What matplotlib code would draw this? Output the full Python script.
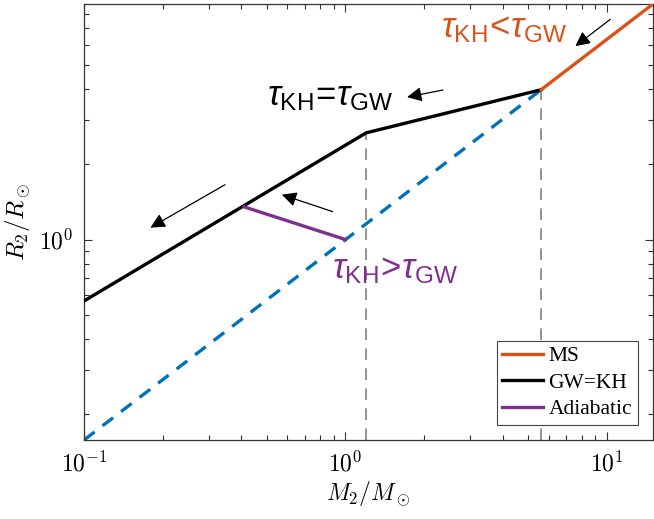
import numpy as np
import matplotlib
matplotlib.use("Agg")
import matplotlib.pyplot as plt
from matplotlib.ticker import FuncFormatter, LogLocator, NullFormatter

plt.rcParams['mathtext.fontset'] = 'cm'
plt.rcParams['mathtext.rm'] = 'Liberation Sans'
plt.rcParams['mathtext.it'] = 'Liberation Sans:italic'

# data
ms_m = [5.6, 15.0]          # main sequence (orange)
ms_r = [3.97, 8.74]
msx_m = [0.1, 5.6]          # MS relation extended (blue dashed)
msx_r = [0.158, 3.97]
gw_m = [0.1, 1.2, 5.6]      # GW=KH track (black)
gw_r = [0.568, 2.67, 3.97]
ad_m = [0.41, 1.0]          # adiabatic (purple)
ad_r = [1.35, 1.0]
vl_m = [1.2, 5.6]           # dashed guides
vl_r = [2.67, 3.97]

xlim = (0.1, 15.0)
ylim = (0.158, 8.74)

c_ms = '#D95319'
c_ext = '#0072BD'
c_ad = '#7E2F8E'
axc = '#333333'

fig = plt.figure(figsize=(6.54, 5.19), dpi=100)
ax = fig.add_axes([84/654, 79/519, 569/654, 436/519])
ax.set_xscale('log')
ax.set_yscale('log')

for x, r in zip(vl_m, vl_r):
    ax.plot([x, x], [ylim[0], r], color='#808080', lw=1.2, dashes=(7, 5), zorder=1)
ax.plot(msx_m, msx_r, color=c_ext, lw=2.4, dashes=(4, 3), zorder=2)
ax.plot(gw_m, gw_r, color='black', lw=2.4, zorder=3, label='GW=KH')
ax.plot(ad_m, ad_r, color=c_ad, lw=2.4, zorder=3, label='Adiabatic')
ax.plot(ms_m, ms_r, color=c_ms, lw=2.4, zorder=4, label='MS')

ax.set_xlim(*xlim)
ax.set_ylim(*ylim)

# arrows (tail, head) in data coords
arrows = [((0.346, 1.656), (0.1795, 1.116)),
          ((0.893, 1.293), (0.571, 1.511)),
          ((2.36, 3.96), (1.72, 3.71)),
          ((10.3, 7.59), (7.57, 5.93))]
for tail, head in arrows:
    ax.annotate('', xy=head, xytext=tail,
                arrowprops=dict(arrowstyle='-|>', lw=0.9, color='black',
                                mutation_scale=22, shrinkA=0, shrinkB=0))

tk = dict(fontsize=25, ha='left', va='center', math_fontfamily='custom')
ax.text(2.32, 7.0, r'$\tau_{\mathrm{KH}}\!<\!\tau_{\mathrm{GW}}$', color=c_ms, **tk)
ax.text(0.50, 3.75, r'$\tau_{\mathrm{KH}}\!=\!\tau_{\mathrm{GW}}$', color='black', **tk)
ax.text(0.892, 0.76, r'$\tau_{\mathrm{KH}}\!>\!\tau_{\mathrm{GW}}$', color=c_ad, **tk)

fmt = FuncFormatter(lambda v, p: r'$10^{%d}$' % int(round(np.log10(v))))
ax.xaxis.set_major_locator(LogLocator(base=10, numticks=10))
ax.yaxis.set_major_locator(LogLocator(base=10, numticks=10))
ax.xaxis.set_major_formatter(fmt)
ax.yaxis.set_major_formatter(fmt)
ax.xaxis.set_minor_formatter(NullFormatter())
ax.yaxis.set_minor_formatter(NullFormatter())
ax.tick_params(which='both', direction='in', top=True, right=True, color=axc,
               labelsize=17, pad=8)
ax.tick_params(which='major', length=6, width=0.8)
ax.tick_params(which='minor', length=3.5, width=0.8)
for s in ax.spines.values():
    s.set_color(axc)
    s.set_linewidth(0.9)

ax.set_xlabel(r'$M_2/M_\odot$', fontsize=17, labelpad=2)
ax.set_ylabel(r'$R_2/R_\odot$', fontsize=18, labelpad=4)

h, l = ax.get_legend_handles_labels()
order = [2, 0, 1]
leg = ax.legend([h[i] for i in order], [l[i] for i in order], loc='lower right',
                prop={'family': 'Liberation Serif', 'size': 15.5},
                frameon=True, fancybox=False, framealpha=1, edgecolor='#444444',
                handlelength=1.9, handletextpad=0.25, borderpad=0.25,
                labelspacing=0.3, borderaxespad=0.72)
leg.get_frame().set_linewidth(0.8)

fig.savefig('out.png', dpi=100)
